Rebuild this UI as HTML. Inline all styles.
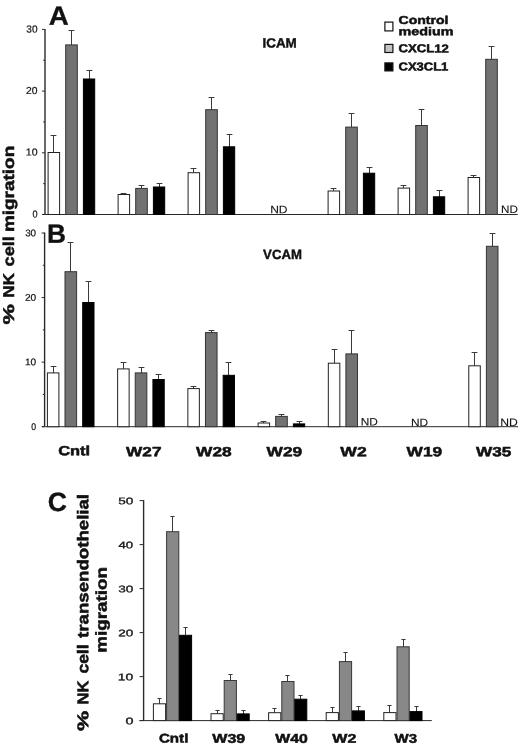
<!DOCTYPE html>
<html><head><meta charset="utf-8"><title>NK cell migration</title>
<style>html,body{margin:0;padding:0;background:#fff;width:520px;height:744px;overflow:hidden}svg{display:block;filter:grayscale(1)}text{fill:#111;text-rendering:geometricPrecision}</style></head>
<body><svg width="520" height="744" viewBox="0 0 520 744" font-family="'Liberation Sans', sans-serif">
<rect width="520" height="744" fill="#fff"/>
<line x1="45.00" y1="28.90" x2="45.00" y2="214.50" stroke="#2a2a2a" stroke-width="1.4"/>
<line x1="42.00" y1="214.50" x2="45.00" y2="214.50" stroke="#2a2a2a" stroke-width="1"/>
<line x1="42.00" y1="152.80" x2="45.00" y2="152.80" stroke="#2a2a2a" stroke-width="1"/>
<line x1="42.00" y1="91.10" x2="45.00" y2="91.10" stroke="#2a2a2a" stroke-width="1"/>
<line x1="42.00" y1="29.40" x2="45.00" y2="29.40" stroke="#2a2a2a" stroke-width="1"/>
<line x1="43.20" y1="183.65" x2="45.00" y2="183.65" stroke="#2a2a2a" stroke-width="1"/>
<line x1="43.20" y1="121.95" x2="45.00" y2="121.95" stroke="#2a2a2a" stroke-width="1"/>
<line x1="43.20" y1="60.25" x2="45.00" y2="60.25" stroke="#2a2a2a" stroke-width="1"/>
<line x1="42.20" y1="214.50" x2="517.70" y2="214.50" stroke="#2a2a2a" stroke-width="1"/>
<line x1="53.50" y1="153.00" x2="53.50" y2="135.50" stroke="#3a3a3a" stroke-width="1"/>
<line x1="50.60" y1="135.50" x2="56.40" y2="135.50" stroke="#3a3a3a" stroke-width="1"/>
<rect x="48.10" y="152.50" width="11.50" height="62.00" fill="#ffffff" stroke="#222222" stroke-width="1"/>
<line x1="71.50" y1="45.40" x2="71.50" y2="30.50" stroke="#3a3a3a" stroke-width="1"/>
<line x1="68.60" y1="30.50" x2="74.40" y2="30.50" stroke="#3a3a3a" stroke-width="1"/>
<rect x="65.70" y="44.90" width="11.60" height="169.60" fill="#727272" stroke="#333333" stroke-width="1"/>
<line x1="89.50" y1="79.50" x2="89.50" y2="70.50" stroke="#3a3a3a" stroke-width="1"/>
<line x1="86.60" y1="70.50" x2="92.40" y2="70.50" stroke="#3a3a3a" stroke-width="1"/>
<rect x="83.40" y="79.00" width="11.30" height="135.50" fill="#000000" stroke="#000000" stroke-width="1"/>
<line x1="123.50" y1="195.00" x2="123.50" y2="193.50" stroke="#3a3a3a" stroke-width="1"/>
<line x1="120.60" y1="193.50" x2="126.40" y2="193.50" stroke="#3a3a3a" stroke-width="1"/>
<rect x="118.10" y="194.50" width="11.50" height="20.00" fill="#ffffff" stroke="#222222" stroke-width="1"/>
<line x1="141.50" y1="188.90" x2="141.50" y2="185.50" stroke="#3a3a3a" stroke-width="1"/>
<line x1="138.60" y1="185.50" x2="144.40" y2="185.50" stroke="#3a3a3a" stroke-width="1"/>
<rect x="135.70" y="188.40" width="11.60" height="26.10" fill="#727272" stroke="#333333" stroke-width="1"/>
<line x1="159.50" y1="187.50" x2="159.50" y2="183.50" stroke="#3a3a3a" stroke-width="1"/>
<line x1="156.60" y1="183.50" x2="162.40" y2="183.50" stroke="#3a3a3a" stroke-width="1"/>
<rect x="153.40" y="187.00" width="11.30" height="27.50" fill="#000000" stroke="#000000" stroke-width="1"/>
<line x1="193.50" y1="173.20" x2="193.50" y2="168.50" stroke="#3a3a3a" stroke-width="1"/>
<line x1="190.60" y1="168.50" x2="196.40" y2="168.50" stroke="#3a3a3a" stroke-width="1"/>
<rect x="188.10" y="172.70" width="11.50" height="41.80" fill="#ffffff" stroke="#222222" stroke-width="1"/>
<line x1="211.50" y1="110.20" x2="211.50" y2="97.50" stroke="#3a3a3a" stroke-width="1"/>
<line x1="208.60" y1="97.50" x2="214.40" y2="97.50" stroke="#3a3a3a" stroke-width="1"/>
<rect x="205.70" y="109.70" width="11.60" height="104.80" fill="#727272" stroke="#333333" stroke-width="1"/>
<line x1="229.50" y1="147.30" x2="229.50" y2="134.50" stroke="#3a3a3a" stroke-width="1"/>
<line x1="226.60" y1="134.50" x2="232.40" y2="134.50" stroke="#3a3a3a" stroke-width="1"/>
<rect x="223.40" y="146.80" width="11.30" height="67.70" fill="#000000" stroke="#000000" stroke-width="1"/>
<line x1="333.50" y1="191.50" x2="333.50" y2="188.50" stroke="#3a3a3a" stroke-width="1"/>
<line x1="330.60" y1="188.50" x2="336.40" y2="188.50" stroke="#3a3a3a" stroke-width="1"/>
<rect x="328.10" y="191.00" width="11.50" height="23.50" fill="#ffffff" stroke="#222222" stroke-width="1"/>
<line x1="351.50" y1="127.60" x2="351.50" y2="113.50" stroke="#3a3a3a" stroke-width="1"/>
<line x1="348.60" y1="113.50" x2="354.40" y2="113.50" stroke="#3a3a3a" stroke-width="1"/>
<rect x="345.70" y="127.10" width="11.60" height="87.40" fill="#727272" stroke="#333333" stroke-width="1"/>
<line x1="369.50" y1="173.70" x2="369.50" y2="167.50" stroke="#3a3a3a" stroke-width="1"/>
<line x1="366.60" y1="167.50" x2="372.40" y2="167.50" stroke="#3a3a3a" stroke-width="1"/>
<rect x="363.40" y="173.20" width="11.30" height="41.30" fill="#000000" stroke="#000000" stroke-width="1"/>
<line x1="403.50" y1="188.60" x2="403.50" y2="185.50" stroke="#3a3a3a" stroke-width="1"/>
<line x1="400.60" y1="185.50" x2="406.40" y2="185.50" stroke="#3a3a3a" stroke-width="1"/>
<rect x="398.10" y="188.10" width="11.50" height="26.40" fill="#ffffff" stroke="#222222" stroke-width="1"/>
<line x1="421.50" y1="126.00" x2="421.50" y2="109.50" stroke="#3a3a3a" stroke-width="1"/>
<line x1="418.60" y1="109.50" x2="424.40" y2="109.50" stroke="#3a3a3a" stroke-width="1"/>
<rect x="415.70" y="125.50" width="11.60" height="89.00" fill="#727272" stroke="#333333" stroke-width="1"/>
<line x1="439.50" y1="197.30" x2="439.50" y2="190.50" stroke="#3a3a3a" stroke-width="1"/>
<line x1="436.60" y1="190.50" x2="442.40" y2="190.50" stroke="#3a3a3a" stroke-width="1"/>
<rect x="433.40" y="196.80" width="11.30" height="17.70" fill="#000000" stroke="#000000" stroke-width="1"/>
<line x1="473.50" y1="178.00" x2="473.50" y2="175.50" stroke="#3a3a3a" stroke-width="1"/>
<line x1="470.60" y1="175.50" x2="476.40" y2="175.50" stroke="#3a3a3a" stroke-width="1"/>
<rect x="468.10" y="177.50" width="11.50" height="37.00" fill="#ffffff" stroke="#222222" stroke-width="1"/>
<line x1="491.50" y1="59.80" x2="491.50" y2="46.50" stroke="#3a3a3a" stroke-width="1"/>
<line x1="488.60" y1="46.50" x2="494.40" y2="46.50" stroke="#3a3a3a" stroke-width="1"/>
<rect x="485.70" y="59.30" width="11.60" height="155.20" fill="#727272" stroke="#333333" stroke-width="1"/>
<line x1="44.60" y1="232.50" x2="44.60" y2="426.70" stroke="#2a2a2a" stroke-width="1.4"/>
<line x1="41.60" y1="426.70" x2="44.60" y2="426.70" stroke="#2a2a2a" stroke-width="1"/>
<line x1="41.60" y1="362.13" x2="44.60" y2="362.13" stroke="#2a2a2a" stroke-width="1"/>
<line x1="41.60" y1="297.57" x2="44.60" y2="297.57" stroke="#2a2a2a" stroke-width="1"/>
<line x1="41.60" y1="233.00" x2="44.60" y2="233.00" stroke="#2a2a2a" stroke-width="1"/>
<line x1="42.80" y1="394.42" x2="44.60" y2="394.42" stroke="#2a2a2a" stroke-width="1"/>
<line x1="42.80" y1="329.85" x2="44.60" y2="329.85" stroke="#2a2a2a" stroke-width="1"/>
<line x1="42.80" y1="265.28" x2="44.60" y2="265.28" stroke="#2a2a2a" stroke-width="1"/>
<line x1="42.00" y1="426.70" x2="518.00" y2="426.70" stroke="#2a2a2a" stroke-width="1"/>
<line x1="53.50" y1="373.40" x2="53.50" y2="366.50" stroke="#3a3a3a" stroke-width="1"/>
<line x1="50.60" y1="366.50" x2="56.40" y2="366.50" stroke="#3a3a3a" stroke-width="1"/>
<rect x="47.40" y="372.90" width="11.50" height="53.80" fill="#ffffff" stroke="#222222" stroke-width="1"/>
<line x1="70.50" y1="272.20" x2="70.50" y2="242.50" stroke="#3a3a3a" stroke-width="1"/>
<line x1="67.60" y1="242.50" x2="73.40" y2="242.50" stroke="#3a3a3a" stroke-width="1"/>
<rect x="65.00" y="271.70" width="11.60" height="155.00" fill="#727272" stroke="#333333" stroke-width="1"/>
<line x1="88.50" y1="303.00" x2="88.50" y2="281.50" stroke="#3a3a3a" stroke-width="1"/>
<line x1="85.60" y1="281.50" x2="91.40" y2="281.50" stroke="#3a3a3a" stroke-width="1"/>
<rect x="82.70" y="302.50" width="11.30" height="124.20" fill="#000000" stroke="#000000" stroke-width="1"/>
<line x1="123.50" y1="369.40" x2="123.50" y2="362.50" stroke="#3a3a3a" stroke-width="1"/>
<line x1="120.60" y1="362.50" x2="126.40" y2="362.50" stroke="#3a3a3a" stroke-width="1"/>
<rect x="117.63" y="368.90" width="11.50" height="57.80" fill="#ffffff" stroke="#222222" stroke-width="1"/>
<line x1="141.50" y1="373.40" x2="141.50" y2="367.50" stroke="#3a3a3a" stroke-width="1"/>
<line x1="138.60" y1="367.50" x2="144.40" y2="367.50" stroke="#3a3a3a" stroke-width="1"/>
<rect x="135.23" y="372.90" width="11.60" height="53.80" fill="#727272" stroke="#333333" stroke-width="1"/>
<line x1="158.50" y1="380.00" x2="158.50" y2="374.50" stroke="#3a3a3a" stroke-width="1"/>
<line x1="155.60" y1="374.50" x2="161.40" y2="374.50" stroke="#3a3a3a" stroke-width="1"/>
<rect x="152.93" y="379.50" width="11.30" height="47.20" fill="#000000" stroke="#000000" stroke-width="1"/>
<line x1="193.50" y1="389.10" x2="193.50" y2="386.50" stroke="#3a3a3a" stroke-width="1"/>
<line x1="190.60" y1="386.50" x2="196.40" y2="386.50" stroke="#3a3a3a" stroke-width="1"/>
<rect x="187.86" y="388.60" width="11.50" height="38.10" fill="#ffffff" stroke="#222222" stroke-width="1"/>
<line x1="211.50" y1="333.10" x2="211.50" y2="330.50" stroke="#3a3a3a" stroke-width="1"/>
<line x1="208.60" y1="330.50" x2="214.40" y2="330.50" stroke="#3a3a3a" stroke-width="1"/>
<rect x="205.46" y="332.60" width="11.60" height="94.10" fill="#727272" stroke="#333333" stroke-width="1"/>
<line x1="228.50" y1="375.80" x2="228.50" y2="362.50" stroke="#3a3a3a" stroke-width="1"/>
<line x1="225.60" y1="362.50" x2="231.40" y2="362.50" stroke="#3a3a3a" stroke-width="1"/>
<rect x="223.16" y="375.30" width="11.30" height="51.40" fill="#000000" stroke="#000000" stroke-width="1"/>
<line x1="263.50" y1="423.50" x2="263.50" y2="421.50" stroke="#3a3a3a" stroke-width="1"/>
<line x1="260.60" y1="421.50" x2="266.40" y2="421.50" stroke="#3a3a3a" stroke-width="1"/>
<rect x="258.09" y="423.00" width="11.50" height="3.70" fill="#ffffff" stroke="#222222" stroke-width="1"/>
<line x1="281.50" y1="416.90" x2="281.50" y2="414.50" stroke="#3a3a3a" stroke-width="1"/>
<line x1="278.60" y1="414.50" x2="284.40" y2="414.50" stroke="#3a3a3a" stroke-width="1"/>
<rect x="275.69" y="416.40" width="11.60" height="10.30" fill="#727272" stroke="#333333" stroke-width="1"/>
<line x1="299.50" y1="424.40" x2="299.50" y2="421.50" stroke="#3a3a3a" stroke-width="1"/>
<line x1="296.60" y1="421.50" x2="302.40" y2="421.50" stroke="#3a3a3a" stroke-width="1"/>
<rect x="293.39" y="423.90" width="11.30" height="2.80" fill="#000000" stroke="#000000" stroke-width="1"/>
<line x1="334.50" y1="363.70" x2="334.50" y2="349.50" stroke="#3a3a3a" stroke-width="1"/>
<line x1="331.60" y1="349.50" x2="337.40" y2="349.50" stroke="#3a3a3a" stroke-width="1"/>
<rect x="328.32" y="363.20" width="11.50" height="63.50" fill="#ffffff" stroke="#222222" stroke-width="1"/>
<line x1="351.50" y1="354.40" x2="351.50" y2="330.50" stroke="#3a3a3a" stroke-width="1"/>
<line x1="348.60" y1="330.50" x2="354.40" y2="330.50" stroke="#3a3a3a" stroke-width="1"/>
<rect x="345.92" y="353.90" width="11.60" height="72.80" fill="#727272" stroke="#333333" stroke-width="1"/>
<line x1="474.50" y1="366.30" x2="474.50" y2="352.50" stroke="#3a3a3a" stroke-width="1"/>
<line x1="471.60" y1="352.50" x2="477.40" y2="352.50" stroke="#3a3a3a" stroke-width="1"/>
<rect x="468.78" y="365.80" width="11.50" height="60.90" fill="#ffffff" stroke="#222222" stroke-width="1"/>
<line x1="492.50" y1="246.80" x2="492.50" y2="233.50" stroke="#3a3a3a" stroke-width="1"/>
<line x1="489.60" y1="233.50" x2="495.40" y2="233.50" stroke="#3a3a3a" stroke-width="1"/>
<rect x="486.38" y="246.30" width="11.60" height="180.40" fill="#727272" stroke="#333333" stroke-width="1"/>
<line x1="143.60" y1="500.10" x2="143.60" y2="720.60" stroke="#2a2a2a" stroke-width="1.4"/>
<line x1="139.60" y1="720.60" x2="143.60" y2="720.60" stroke="#2a2a2a" stroke-width="1"/>
<line x1="139.60" y1="676.60" x2="143.60" y2="676.60" stroke="#2a2a2a" stroke-width="1"/>
<line x1="139.60" y1="632.60" x2="143.60" y2="632.60" stroke="#2a2a2a" stroke-width="1"/>
<line x1="139.60" y1="588.60" x2="143.60" y2="588.60" stroke="#2a2a2a" stroke-width="1"/>
<line x1="139.60" y1="544.60" x2="143.60" y2="544.60" stroke="#2a2a2a" stroke-width="1"/>
<line x1="139.60" y1="500.60" x2="143.60" y2="500.60" stroke="#2a2a2a" stroke-width="1"/>
<line x1="139.50" y1="720.60" x2="431.80" y2="720.60" stroke="#2a2a2a" stroke-width="1"/>
<line x1="159.50" y1="704.30" x2="159.50" y2="698.50" stroke="#3a3a3a" stroke-width="1"/>
<line x1="157.40" y1="698.50" x2="161.60" y2="698.50" stroke="#3a3a3a" stroke-width="1"/>
<rect x="153.40" y="703.80" width="12.20" height="16.80" fill="#ffffff" stroke="#222222" stroke-width="1"/>
<line x1="172.50" y1="532.20" x2="172.50" y2="516.50" stroke="#3a3a3a" stroke-width="1"/>
<line x1="170.40" y1="516.50" x2="174.60" y2="516.50" stroke="#3a3a3a" stroke-width="1"/>
<rect x="166.60" y="531.70" width="12.20" height="188.90" fill="#888888" stroke="#383838" stroke-width="1"/>
<line x1="185.50" y1="635.80" x2="185.50" y2="627.50" stroke="#3a3a3a" stroke-width="1"/>
<line x1="183.40" y1="627.50" x2="187.60" y2="627.50" stroke="#3a3a3a" stroke-width="1"/>
<rect x="179.60" y="635.30" width="12.00" height="85.30" fill="#000000" stroke="#000000" stroke-width="1"/>
<line x1="217.50" y1="714.20" x2="217.50" y2="710.50" stroke="#3a3a3a" stroke-width="1"/>
<line x1="215.40" y1="710.50" x2="219.60" y2="710.50" stroke="#3a3a3a" stroke-width="1"/>
<rect x="211.00" y="713.70" width="12.20" height="6.90" fill="#ffffff" stroke="#222222" stroke-width="1"/>
<line x1="230.50" y1="681.00" x2="230.50" y2="674.50" stroke="#3a3a3a" stroke-width="1"/>
<line x1="228.40" y1="674.50" x2="232.60" y2="674.50" stroke="#3a3a3a" stroke-width="1"/>
<rect x="224.20" y="680.50" width="12.20" height="40.10" fill="#888888" stroke="#383838" stroke-width="1"/>
<line x1="243.50" y1="714.40" x2="243.50" y2="710.50" stroke="#3a3a3a" stroke-width="1"/>
<line x1="241.40" y1="710.50" x2="245.60" y2="710.50" stroke="#3a3a3a" stroke-width="1"/>
<rect x="237.20" y="713.90" width="12.00" height="6.70" fill="#000000" stroke="#000000" stroke-width="1"/>
<line x1="274.50" y1="713.20" x2="274.50" y2="708.50" stroke="#3a3a3a" stroke-width="1"/>
<line x1="272.40" y1="708.50" x2="276.60" y2="708.50" stroke="#3a3a3a" stroke-width="1"/>
<rect x="268.60" y="712.70" width="12.20" height="7.90" fill="#ffffff" stroke="#222222" stroke-width="1"/>
<line x1="287.50" y1="682.00" x2="287.50" y2="675.50" stroke="#3a3a3a" stroke-width="1"/>
<line x1="285.40" y1="675.50" x2="289.60" y2="675.50" stroke="#3a3a3a" stroke-width="1"/>
<rect x="281.80" y="681.50" width="12.20" height="39.10" fill="#888888" stroke="#383838" stroke-width="1"/>
<line x1="300.50" y1="699.70" x2="300.50" y2="695.50" stroke="#3a3a3a" stroke-width="1"/>
<line x1="298.40" y1="695.50" x2="302.60" y2="695.50" stroke="#3a3a3a" stroke-width="1"/>
<rect x="294.80" y="699.20" width="12.00" height="21.40" fill="#000000" stroke="#000000" stroke-width="1"/>
<line x1="332.50" y1="713.10" x2="332.50" y2="707.50" stroke="#3a3a3a" stroke-width="1"/>
<line x1="330.40" y1="707.50" x2="334.60" y2="707.50" stroke="#3a3a3a" stroke-width="1"/>
<rect x="326.20" y="712.60" width="12.20" height="8.00" fill="#ffffff" stroke="#222222" stroke-width="1"/>
<line x1="345.50" y1="662.10" x2="345.50" y2="652.50" stroke="#3a3a3a" stroke-width="1"/>
<line x1="343.40" y1="652.50" x2="347.60" y2="652.50" stroke="#3a3a3a" stroke-width="1"/>
<rect x="339.40" y="661.60" width="12.20" height="59.00" fill="#888888" stroke="#383838" stroke-width="1"/>
<line x1="358.50" y1="711.40" x2="358.50" y2="706.50" stroke="#3a3a3a" stroke-width="1"/>
<line x1="356.40" y1="706.50" x2="360.60" y2="706.50" stroke="#3a3a3a" stroke-width="1"/>
<rect x="352.40" y="710.90" width="12.00" height="9.70" fill="#000000" stroke="#000000" stroke-width="1"/>
<line x1="389.50" y1="713.10" x2="389.50" y2="705.50" stroke="#3a3a3a" stroke-width="1"/>
<line x1="387.40" y1="705.50" x2="391.60" y2="705.50" stroke="#3a3a3a" stroke-width="1"/>
<rect x="383.80" y="712.60" width="12.20" height="8.00" fill="#ffffff" stroke="#222222" stroke-width="1"/>
<line x1="403.50" y1="647.30" x2="403.50" y2="639.50" stroke="#3a3a3a" stroke-width="1"/>
<line x1="401.40" y1="639.50" x2="405.60" y2="639.50" stroke="#3a3a3a" stroke-width="1"/>
<rect x="397.00" y="646.80" width="12.20" height="73.80" fill="#888888" stroke="#383838" stroke-width="1"/>
<line x1="416.50" y1="712.10" x2="416.50" y2="706.50" stroke="#3a3a3a" stroke-width="1"/>
<line x1="414.40" y1="706.50" x2="418.60" y2="706.50" stroke="#3a3a3a" stroke-width="1"/>
<rect x="410.00" y="711.60" width="12.00" height="9.00" fill="#000000" stroke="#000000" stroke-width="1"/>
<g transform="translate(48.68,24.80) rotate(0.05)">
<text x="0.00" y="0.00" font-size="26.4" font-weight="bold" stroke="#111" stroke-width="0.3" textLength="20.02" lengthAdjust="spacingAndGlyphs">A</text>
</g>
<g transform="translate(47.11,242.80) rotate(0.05)">
<text x="0.00" y="0.00" font-size="26.4" font-weight="bold" stroke="#111" stroke-width="0.3" textLength="18.95" lengthAdjust="spacingAndGlyphs">B</text>
</g>
<g transform="translate(47.69,511.00) rotate(0.05)">
<text x="0.00" y="0.00" font-size="26.4" font-weight="bold" stroke="#111" stroke-width="0.3" textLength="19.17" lengthAdjust="spacingAndGlyphs">C</text>
</g>
<g transform="translate(262.45,47.40) rotate(0.05)">
<text x="0.00" y="0.00" font-size="13.4" font-weight="bold" stroke="#111" stroke-width="0.4" textLength="34.38" lengthAdjust="spacingAndGlyphs">ICAM</text>
</g>
<g transform="translate(263.10,258.95) rotate(0.05)">
<text x="0.00" y="0.00" font-size="13.4" font-weight="bold" stroke="#111" stroke-width="0.4" textLength="38.78" lengthAdjust="spacingAndGlyphs">VCAM</text>
</g>
<g transform="translate(398.49,23.95) rotate(0.05)">
<text x="0.00" y="0.00" font-size="11.5" font-weight="bold" stroke="#111" stroke-width="0.5" textLength="49.99" lengthAdjust="spacingAndGlyphs">Control</text>
</g>
<g transform="translate(398.58,35.15) rotate(0.05)">
<text x="0.00" y="0.00" font-size="11.5" font-weight="bold" stroke="#111" stroke-width="0.5" textLength="54.95" lengthAdjust="spacingAndGlyphs">medium</text>
</g>
<g transform="translate(398.51,52.35) rotate(0.05)">
<text x="0.00" y="0.00" font-size="11.5" font-weight="bold" stroke="#111" stroke-width="0.5" textLength="50.40" lengthAdjust="spacingAndGlyphs">CXCL12</text>
</g>
<g transform="translate(398.52,70.55) rotate(0.05)">
<text x="0.00" y="0.00" font-size="11.5" font-weight="bold" stroke="#111" stroke-width="0.5" textLength="49.81" lengthAdjust="spacingAndGlyphs">CX3CL1</text>
</g>
<g transform="translate(26.35,32.50) rotate(0.05)">
<text x="0.00" y="0.00" font-size="10.14" stroke="#111" stroke-width="0.2" textLength="11.21" lengthAdjust="spacingAndGlyphs">30</text>
</g>
<g transform="translate(26.09,94.10) rotate(0.05)">
<text x="0.00" y="0.00" font-size="10.14" stroke="#111" stroke-width="0.2" textLength="11.48" lengthAdjust="spacingAndGlyphs">20</text>
</g>
<g transform="translate(25.82,155.60) rotate(0.05)">
<text x="0.00" y="0.00" font-size="10.14" stroke="#111" stroke-width="0.2" textLength="11.76" lengthAdjust="spacingAndGlyphs">10</text>
</g>
<g transform="translate(32.57,217.60) rotate(0.05)">
<text x="0.00" y="0.00" font-size="10.14" stroke="#111" stroke-width="0.2" textLength="5.08" lengthAdjust="spacingAndGlyphs">0</text>
</g>
<g transform="translate(25.14,236.35) rotate(0.05)">
<text x="0.00" y="0.00" font-size="9.6" stroke="#111" stroke-width="0.2" textLength="10.93" lengthAdjust="spacingAndGlyphs">30</text>
</g>
<g transform="translate(24.88,300.75) rotate(0.05)">
<text x="0.00" y="0.00" font-size="9.6" stroke="#111" stroke-width="0.2" textLength="11.21" lengthAdjust="spacingAndGlyphs">20</text>
</g>
<g transform="translate(24.88,365.35) rotate(0.05)">
<text x="0.00" y="0.00" font-size="9.6" stroke="#111" stroke-width="0.2" textLength="11.21" lengthAdjust="spacingAndGlyphs">10</text>
</g>
<g transform="translate(31.37,430.05) rotate(0.05)">
<text x="0.00" y="0.00" font-size="9.6" stroke="#111" stroke-width="0.2" textLength="4.84" lengthAdjust="spacingAndGlyphs">0</text>
</g>
<g transform="translate(118.15,504.25) rotate(0.05)">
<text x="0.00" y="0.00" font-size="9.6" stroke="#111" stroke-width="0.3" textLength="15.10" lengthAdjust="spacingAndGlyphs">50</text>
</g>
<g transform="translate(118.50,548.25) rotate(0.05)">
<text x="0.00" y="0.00" font-size="9.6" stroke="#111" stroke-width="0.3" textLength="14.74" lengthAdjust="spacingAndGlyphs">40</text>
</g>
<g transform="translate(118.15,592.25) rotate(0.05)">
<text x="0.00" y="0.00" font-size="9.6" stroke="#111" stroke-width="0.3" textLength="15.10" lengthAdjust="spacingAndGlyphs">30</text>
</g>
<g transform="translate(118.15,636.25) rotate(0.05)">
<text x="0.00" y="0.00" font-size="9.6" stroke="#111" stroke-width="0.3" textLength="15.10" lengthAdjust="spacingAndGlyphs">20</text>
</g>
<g transform="translate(117.78,680.25) rotate(0.05)">
<text x="0.00" y="0.00" font-size="9.6" stroke="#111" stroke-width="0.3" textLength="15.47" lengthAdjust="spacingAndGlyphs">10</text>
</g>
<g transform="translate(125.53,724.25) rotate(0.05)">
<text x="0.00" y="0.00" font-size="9.6" stroke="#111" stroke-width="0.3" textLength="7.99" lengthAdjust="spacingAndGlyphs">0</text>
</g>
<g transform="translate(270.17,213.20) rotate(0.05)">
<text x="0.00" y="0.00" font-size="10.9" stroke="#111" stroke-width="0.1" textLength="17.36" lengthAdjust="spacingAndGlyphs">ND</text>
</g>
<g transform="translate(501.00,213.10) rotate(0.05)">
<text x="0.00" y="0.00" font-size="10.9" stroke="#111" stroke-width="0.1" textLength="16.82" lengthAdjust="spacingAndGlyphs">ND</text>
</g>
<g transform="translate(360.78,425.60) rotate(0.05)">
<text x="0.00" y="0.00" font-size="10.9" stroke="#111" stroke-width="0.1" textLength="17.15" lengthAdjust="spacingAndGlyphs">ND</text>
</g>
<g transform="translate(410.88,426.30) rotate(0.05)">
<text x="0.00" y="0.00" font-size="10.9" stroke="#111" stroke-width="0.1" textLength="17.15" lengthAdjust="spacingAndGlyphs">ND</text>
</g>
<g transform="translate(500.16,426.10) rotate(0.05)">
<text x="0.00" y="0.00" font-size="10.9" stroke="#111" stroke-width="0.1" textLength="17.58" lengthAdjust="spacingAndGlyphs">ND</text>
</g>
<g transform="translate(58.19,455.35) rotate(0.05)">
<text x="0.00" y="0.00" font-size="13.4" font-weight="bold" stroke="#111" stroke-width="0.5" textLength="31.97" lengthAdjust="spacingAndGlyphs">Cntl</text>
</g>
<g transform="translate(126.12,456.25) rotate(0.05)">
<text x="0.00" y="0.00" font-size="13.4" font-weight="bold" stroke="#111" stroke-width="0.5" textLength="35.36" lengthAdjust="spacingAndGlyphs">W27</text>
</g>
<g transform="translate(196.07,456.25) rotate(0.05)">
<text x="0.00" y="0.00" font-size="13.4" font-weight="bold" stroke="#111" stroke-width="0.5" textLength="35.56" lengthAdjust="spacingAndGlyphs">W28</text>
</g>
<g transform="translate(266.57,456.25) rotate(0.05)">
<text x="0.00" y="0.00" font-size="13.4" font-weight="bold" stroke="#111" stroke-width="0.5" textLength="35.56" lengthAdjust="spacingAndGlyphs">W29</text>
</g>
<g transform="translate(340.33,456.25) rotate(0.05)">
<text x="0.00" y="0.00" font-size="13.4" font-weight="bold" stroke="#111" stroke-width="0.5" textLength="26.37" lengthAdjust="spacingAndGlyphs">W2</text>
</g>
<g transform="translate(406.57,456.25) rotate(0.05)">
<text x="0.00" y="0.00" font-size="13.4" font-weight="bold" stroke="#111" stroke-width="0.5" textLength="35.56" lengthAdjust="spacingAndGlyphs">W19</text>
</g>
<g transform="translate(476.07,456.25) rotate(0.05)">
<text x="0.00" y="0.00" font-size="13.4" font-weight="bold" stroke="#111" stroke-width="0.5" textLength="35.24" lengthAdjust="spacingAndGlyphs">W35</text>
</g>
<g transform="translate(158.90,742.45) rotate(0.05)">
<text x="0.00" y="0.00" font-size="12.6" font-weight="bold" stroke="#111" stroke-width="0.5" textLength="29.49" lengthAdjust="spacingAndGlyphs">Cntl</text>
</g>
<g transform="translate(212.32,742.75) rotate(0.05)">
<text x="0.00" y="0.00" font-size="12.6" font-weight="bold" stroke="#111" stroke-width="0.5" textLength="32.88" lengthAdjust="spacingAndGlyphs">W39</text>
</g>
<g transform="translate(275.31,742.75) rotate(0.05)">
<text x="0.00" y="0.00" font-size="12.6" font-weight="bold" stroke="#111" stroke-width="0.5" textLength="32.50" lengthAdjust="spacingAndGlyphs">W40</text>
</g>
<g transform="translate(332.32,742.75) rotate(0.05)">
<text x="0.00" y="0.00" font-size="12.6" font-weight="bold" stroke="#111" stroke-width="0.5" textLength="23.98" lengthAdjust="spacingAndGlyphs">W2</text>
</g>
<g transform="translate(394.60,742.75) rotate(0.05)">
<text x="0.00" y="0.00" font-size="12.6" font-weight="bold" stroke="#111" stroke-width="0.5" textLength="22.47" lengthAdjust="spacingAndGlyphs">W3</text>
</g>
<g transform="translate(13.90,324.57) rotate(-89.95)">
<text x="0.00" y="0.00" font-size="15.6" font-weight="bold" stroke="#111" stroke-width="0.5" textLength="20.45" lengthAdjust="spacingAndGlyphs">%</text>
</g>
<g transform="translate(13.90,297.41) rotate(-89.95)">
<text x="0.00" y="0.00" font-size="15.6" font-weight="bold" stroke="#111" stroke-width="0.5" textLength="24.27" lengthAdjust="spacingAndGlyphs">NK</text>
</g>
<g transform="translate(13.90,266.39) rotate(-89.95)">
<text x="0.00" y="0.00" font-size="15.6" font-weight="bold" stroke="#111" stroke-width="0.5" textLength="30.18" lengthAdjust="spacingAndGlyphs">cell</text>
</g>
<g transform="translate(13.90,232.11) rotate(-89.95)">
<text x="0.00" y="0.00" font-size="15.6" font-weight="bold" stroke="#111" stroke-width="0.5" textLength="86.38" lengthAdjust="spacingAndGlyphs">migration</text>
</g>
<g transform="translate(88.20,731.06) rotate(-89.95)">
<text x="0.00" y="0.00" font-size="15.6" font-weight="bold" stroke="#111" stroke-width="0.5" textLength="20.25" lengthAdjust="spacingAndGlyphs">%</text>
</g>
<g transform="translate(88.20,704.39) rotate(-89.95)">
<text x="0.00" y="0.00" font-size="15.6" font-weight="bold" stroke="#111" stroke-width="0.5" textLength="23.86" lengthAdjust="spacingAndGlyphs">NK</text>
</g>
<g transform="translate(88.20,673.58) rotate(-89.95)">
<text x="0.00" y="0.00" font-size="15.6" font-weight="bold" stroke="#111" stroke-width="0.5" textLength="29.14" lengthAdjust="spacingAndGlyphs">cell</text>
</g>
<g transform="translate(88.20,637.90) rotate(-89.95)">
<text x="0.00" y="0.00" font-size="15.6" font-weight="bold" stroke="#111" stroke-width="0.5" textLength="143.94" lengthAdjust="spacingAndGlyphs">transendothelial</text>
</g>
<g transform="translate(106.60,652.70) rotate(-89.95)">
<text x="0.00" y="0.00" font-size="15.6" font-weight="bold" stroke="#111" stroke-width="0.5" textLength="85.67" lengthAdjust="spacingAndGlyphs">migration</text>
</g>
<rect x="384.90" y="22.10" width="8.00" height="8.80" fill="#ffffff" stroke="#111" stroke-width="1.2"/>
<rect x="384.90" y="44.40" width="8.00" height="8.10" fill="#c4c4c4" stroke="#111" stroke-width="1.2"/>
<rect x="384.90" y="62.90" width="8.00" height="8.00" fill="#000000" stroke="#111" stroke-width="1.2"/>
</svg></body></html>
